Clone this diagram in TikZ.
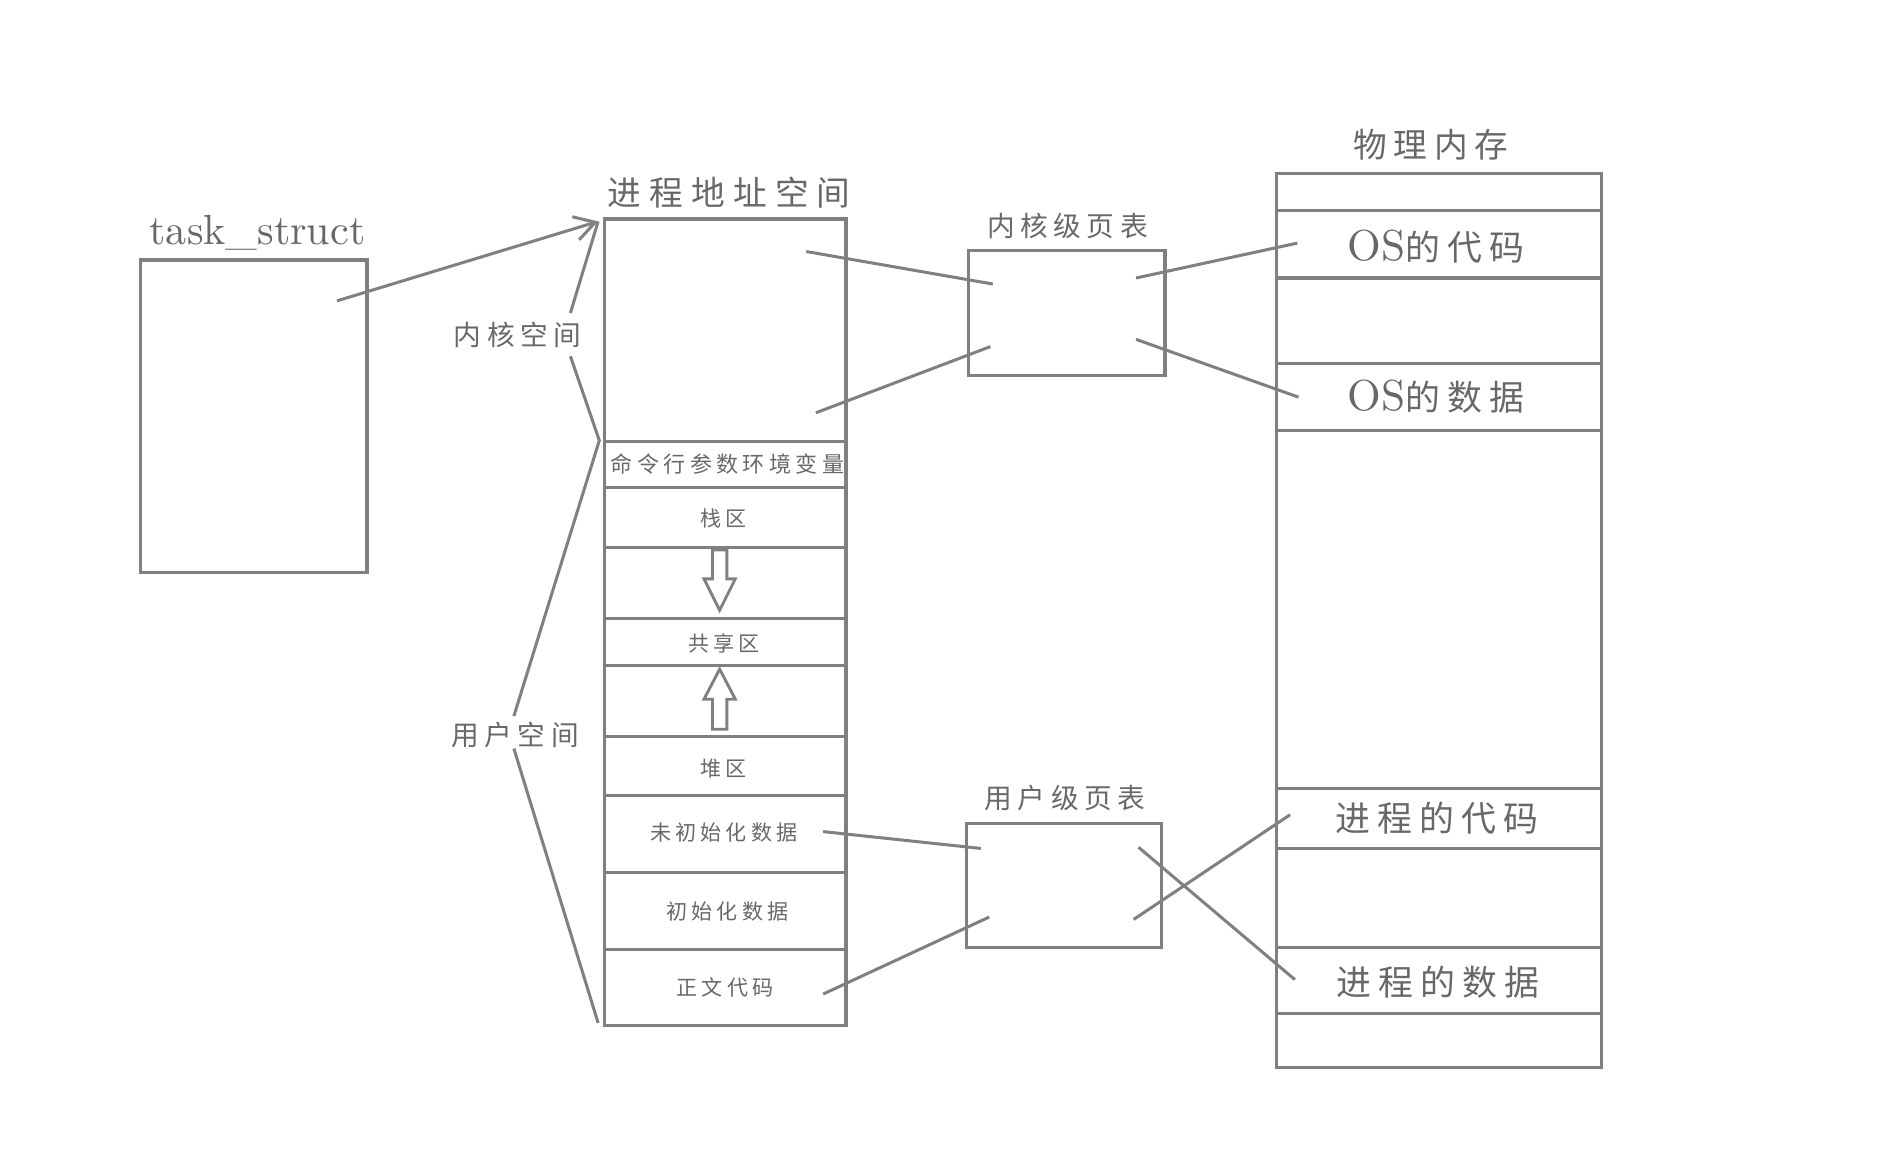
\documentclass[tikz,border=0pt]{standalone}
\usepackage{fontspec}
\newfontfamily\cjkfont{Noto Sans CJK SC}[LetterSpace=20]
\newfontfamily\cjkwide{Noto Sans CJK SC}[LetterSpace=24]
\newfontfamily\lmten{lmroman10-regular.otf}
\usetikzlibrary{arrows.meta,calc}
\definecolor{lc}{RGB}{128,128,128}
\definecolor{tc}{RGB}{104,104,104}
\begin{document}
\begin{tikzpicture}[x=1pt,y=-1pt,
  cell/.style={draw=lc, line width=2.7pt, anchor=north west, inner sep=0pt, outer sep=0pt},
  conn/.style={draw=lc, line width=2.5pt},
  lbl/.style={inner sep=0pt, outer sep=0pt, text=tc},
  small/.style={font=\cjkfont\fontsize{17.5}{18}\selectfont},
  mid/.style={font=\cjkfont\fontsize{23}{24}\selectfont},
  big/.style={font=\cjkfont\fontsize{29}{30}\selectfont},
]
\useasboundingbox (0,0) rectangle (1568,972.2);

% task_struct
\node[cell, minimum width=188pt, minimum height=260pt] (ts) at (117,216) {};
\node[lbl, anchor=base, font=\lmten\fontsize{35}{36}\selectfont] (tsl) at (214,203) {task\_struct};

% process address space
\node[lbl, font=\cjkwide\fontsize{28}{30}\selectfont] (asl) at (606,160) {进程地址空间};
\begin{scope}[every node/.style={cell, minimum width=201pt}]
\node[minimum height=185pt] (as1) at (502,182) {};
\node[minimum height=38pt] (as2) at (502,367) {};
\node[minimum height=50pt] (as3) at (502,405) {};
\node[minimum height=59pt] (as4) at (502,455) {};
\node[minimum height=39pt] (as5) at (502,514) {};
\node[minimum height=59pt] (as6) at (502,553) {};
\node[minimum height=49pt] (as7) at (502,612) {};
\node[minimum height=64pt] (as8) at (502,661) {};
\node[minimum height=64pt] (as9) at (502,725) {};
\node[minimum height=63pt] (as10) at (502,789) {};
\end{scope}
\node[lbl, font=\cjkfont\fontsize{18.3}{20}\selectfont] (t2) at ($(as2.center)+(2,0)$) {命令行参数环境变量};
\node[lbl, small] (t3) at ($(as3.center)+(-1,1)$) {栈区};
\node[lbl, small] (t5) at ($(as5.center)+(-1,1)$) {共享区};
\node[lbl, small] (t7) at ($(as7.center)+(-1,2)$) {堆区};
\node[lbl, small] (t8) at ($(as8.center)+(-1,-1)$) {未初始化数据};
\node[lbl, small] (t9) at ($(as9.center)+(2,0)$) {初始化数据};
\node[lbl, small] (t10) at ($(as10.center)+(0,0)$) {正文代码};

% growth arrows
\draw[conn, line width=2.4pt, line join=miter] (592,457) -- (604,457) -- (604,481) -- (611,481) -- (598,507) -- (585,481) -- (592,481) -- cycle;
\draw[conn, line width=2.4pt, line join=miter] (592,606) -- (604,606) -- (604,581) -- (611,581) -- (598,556) -- (585,581) -- (592,581) -- cycle;

% side labels and brackets
\node[lbl, mid] (kl) at (430,278) {内核空间};
\node[lbl, mid] (ul) at (428,611) {用户空间};
\coordinate (b1) at (474,260);
\coordinate (b2) at (474,296);
\coordinate (b3) at (498,366);
\coordinate (b4) at (427,595);
\coordinate (b5) at (427,622);
\coordinate (b6) at (497,850);
\coordinate (atip) at (497,184);
\draw[conn] (atip) -- (b1);
\draw[conn] (b2) -- (b3) -- (b4);
\draw[conn] (b5) -- (b6);

% task_struct arrow
\coordinate (a0) at (280,250);
\draw[conn, -{Straight Barb[length=17pt,width=20pt,line width=2.5pt]}] (a0) -- (atip);

% page tables
\node[lbl, mid] (kptl) at (887,188) {内核级页表};
\node[cell, minimum width=163pt, minimum height=104pt] (kpt) at (805,208) {};
\node[lbl, mid] (uptl) at (885,663) {用户级页表};
\node[cell, minimum width=162pt, minimum height=103pt] (upt) at (803,684) {};

% physical memory
\node[lbl, font=\cjkfont\fontsize{28}{30}\selectfont] (pml) at (1189,120) {物理内存};
\begin{scope}[every node/.style={cell, minimum width=270pt}]
\node[minimum height=31pt] (pm1) at (1061,144) {};
\node[minimum height=56pt] (pm2) at (1061,175) {};
\node[minimum height=71pt] (pm3) at (1061,231) {};
\node[minimum height=56pt] (pm4) at (1061,302) {};
\node[minimum height=297pt] (pm5) at (1061,358) {};
\node[minimum height=50pt] (pm6) at (1061,655) {};
\node[minimum height=82pt] (pm7) at (1061,705) {};
\node[minimum height=55pt] (pm8) at (1061,787) {};
\node[minimum height=45pt] (pm9) at (1061,842) {};
\end{scope}
\node[lbl, font=\lmten\fontsize{36}{36}\selectfont] (p2) at ($(pm2.center)+(-3,2)$) {OS{\cjkfont\fontsize{29}{30}\selectfont 的代码}};
\node[lbl, font=\lmten\fontsize{36}{36}\selectfont] (p4) at ($(pm4.center)+(-3,0)$) {OS{\cjkfont\fontsize{29}{30}\selectfont 的数据}};
\node[lbl, big] (p6) at ($(pm6.center)+(-2,0)$) {进程的代码};
\node[lbl, big] (p8) at ($(pm8.center)+(-1,2)$) {进程的数据};

% connector end points
\coordinate (c1a) at (670,209);  \coordinate (c1b) at (825,236);
\coordinate (c2a) at (678,343);  \coordinate (c2b) at (823,288);
\coordinate (c3a) at (944,231);  \coordinate (c3b) at (1078,202);
\coordinate (c4a) at (944,282);  \coordinate (c4b) at (1079,330);
\coordinate (c5a) at (684,691);  \coordinate (c5b) at (815,705);
\coordinate (c6a) at (684,826);  \coordinate (c6b) at (822,762);
\coordinate (c7a) at (942,764);  \coordinate (c7b) at (1072,677);
\coordinate (c8a) at (946,704);  \coordinate (c8b) at (1076,814);
\draw[conn] (c1a) -- (c1b);
\draw[conn] (c2a) -- (c2b);
\draw[conn] (c3a) -- (c3b);
\draw[conn] (c4a) -- (c4b);
\draw[conn] (c5a) -- (c5b);
\draw[conn] (c6a) -- (c6b);
\draw[conn] (c7a) -- (c7b);
\draw[conn] (c8a) -- (c8b);
\end{tikzpicture}
\end{document}
